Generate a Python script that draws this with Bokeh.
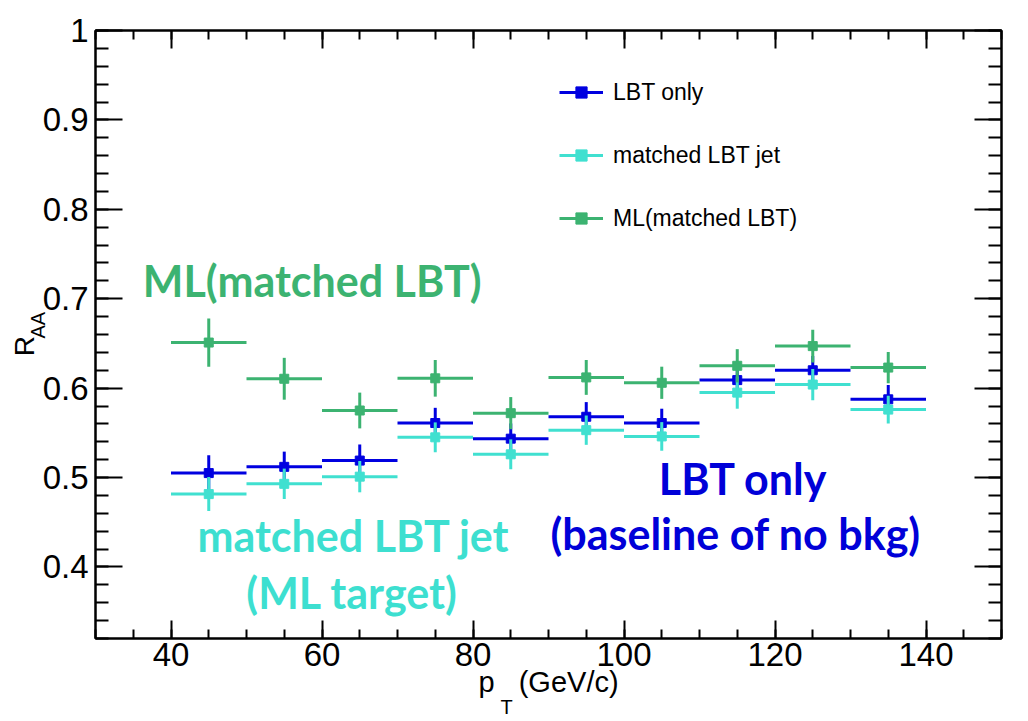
import math
from bokeh.plotting import figure
from bokeh.models import (LinearAxis, SingleIntervalTicker, CustomJSTickFormatter, Label,
                          Legend, LegendItem, Range1d, ColumnDataSource)
from bokeh.embed import file_html
from bokeh.resources import INLINE

# ---------------- data ----------------
pt = [45, 55, 65, 75, 85, 95, 105, 115, 125, 135]
pt_lo = [40, 50, 60, 70, 80, 90, 100, 110, 120, 130]
pt_hi = [50, 60, 70, 80, 90, 100, 110, 120, 130, 140]

lbt_only = [0.505, 0.512, 0.519, 0.561, 0.5435, 0.568, 0.561, 0.609, 0.620, 0.5875]
lbt_only_err = [0.020, 0.017, 0.018, 0.017, 0.017, 0.0164, 0.016, 0.016, 0.016, 0.016]

matched_jet = [0.4815, 0.493, 0.501, 0.545, 0.526, 0.553, 0.546, 0.595, 0.604, 0.576]
matched_jet_err = [0.019, 0.017, 0.0175, 0.0167, 0.0167, 0.0164, 0.016, 0.018, 0.0175, 0.0156]

ml_matched = [0.651, 0.6105, 0.575, 0.611, 0.572, 0.612, 0.606, 0.625, 0.647, 0.623]
ml_matched_err = [0.027, 0.0234, 0.020, 0.0205, 0.018, 0.0195, 0.018, 0.0186, 0.0182, 0.0175]

series_names = ["LBT only", "matched LBT jet", "ML(matched LBT)"]
series_values = [lbt_only, matched_jet, ml_matched]
series_errors = [lbt_only_err, matched_jet_err, ml_matched_err]
series_colors = ["#0000e0", "#40e0d0", "#3cb371"]

x_ticks_interval = 20
y_ticks_interval = 0.1

NB = "\u00a0"

# ---------------- figure ----------------
p = figure(width=1028, height=721, x_range=Range1d(30, 150), y_range=Range1d(0.32, 1.0),
           output_backend="svg", toolbar_location=None,
           min_border_left=95, min_border_right=27, min_border_top=30, min_border_bottom=83,
           x_axis_location=None, y_axis_location=None)
p.xgrid.visible = False
p.ygrid.visible = False
p.outline_line_color = "black"
p.outline_line_width = 2
p.background_fill_color = "white"
p.border_fill_color = "white"

TICK_FONT = "Liberation Sans"


def make_axis(kind, labels):
    ax = LinearAxis()
    if kind == "x":
        ax.ticker = SingleIntervalTicker(interval=x_ticks_interval, num_minor_ticks=4)
        ax.major_tick_in = 18
        ax.minor_tick_in = 9
    else:
        ax.ticker = SingleIntervalTicker(interval=y_ticks_interval, num_minor_ticks=5)
        ax.major_tick_in = 27
        ax.minor_tick_in = 13
    ax.major_tick_out = 0
    ax.minor_tick_out = 0
    ax.axis_line_width = 2
    ax.major_tick_line_width = 2
    ax.minor_tick_line_width = 2
    ax.axis_line_color = "black"
    ax.major_tick_line_color = "black"
    ax.minor_tick_line_color = "black"
    if labels:
        ax.major_label_text_font = TICK_FONT
        ax.major_label_text_font_size = "33px"
        ax.major_label_text_color = "black"
        ax.axis_label_text_font = TICK_FONT
        ax.axis_label_text_font_style = "normal"
        ax.axis_label_text_color = "black"
        if kind == "x":
            ax.major_label_standoff = 4
            ax.formatter = CustomJSTickFormatter(code="return Math.round(tick).toString();")
            ax.axis_label = "p" + NB * 3 + "(GeV/c)"
            ax.axis_label_text_font_size = "29px"
            ax.axis_label_standoff = -3
        else:
            ax.major_label_standoff = 7
            ax.formatter = CustomJSTickFormatter(code="return (Math.round(tick*10)/10).toString();")
            ax.axis_label = "R" + NB * 3
            ax.axis_label_text_font_size = "28px"
            ax.axis_label_standoff = 0
    else:
        ax.major_label_text_font_size = "0px"
        ax.major_label_text_alpha = 0
        ax.major_label_standoff = 0
    return ax


p.add_layout(make_axis("x", True), "below")
p.add_layout(make_axis("x", False), "above")
p.add_layout(make_axis("y", True), "left")
p.add_layout(make_axis("y", False), "right")

# ---------------- series ----------------
legend_items = []
for name, vals, errs, col in zip(series_names, series_values, series_errors, series_colors):
    src = ColumnDataSource(dict(
        x=pt, lo=pt_lo, hi=pt_hi, y=vals,
        ylo=[v - e for v, e in zip(vals, errs)],
        yhi=[v + e for v, e in zip(vals, errs)],
    ))
    p.segment(x0="x", x1="x", y0="ylo", y1="yhi", source=src, line_color=col, line_width=3)
    hr = p.segment(x0="lo", x1="hi", y0="y", y1="y", source=src, line_color=col, line_width=3)
    sr = p.scatter(x="x", y="y", source=src, marker="square", size=9,
                   fill_color=col, line_color=col, line_width=1)
    legend_items.append(LegendItem(label=name, renderers=[hr, sr]))

legend = Legend(items=legend_items, location=(464, 406), orientation="vertical",
                glyph_width=44, glyph_height=28, label_height=28, label_standoff=10,
                spacing=35, padding=0, margin=0,
                border_line_color=None, background_fill_alpha=0,
                label_text_font=TICK_FONT, label_text_font_size="23px",
                label_text_color="black")
p.add_layout(legend, "center")

# ---------------- annotations ----------------
BIG_FONT = "Lato"
BIG_SIZE = "43px"
big_texts = [
    ("ML(matched LBT)", 58.7, 0.7199, "#3cb371"),
    ("matched LBT jet", 64.2, 0.4353, "#3ddfd0"),
    ("(ML target)", 64.0, 0.3717, "#3ddfd0"),
    ("LBT only", 115.8, 0.499, "#0000d8"),
    ("(baseline of no bkg)", 114.8, 0.437, "#0000d8"),
]
for txt, xx, yy, col in big_texts:
    p.add_layout(Label(x=xx, y=yy, text=txt, text_align="center", text_baseline="alphabetic",
                       text_font=BIG_FONT, text_font_style="bold", text_font_size=BIG_SIZE,
                       text_color=col))

# subscripts of the axis titles, placed in side panels (not clipped to the frame)
p.add_layout(Label(x=-501, y=-68, x_units="screen", y_units="screen", text="T",
                   text_font=TICK_FONT, text_font_size="20px", text_baseline="alphabetic",
                   text_align="left", text_color="black"), "right")
p.add_layout(Label(x=-58, y=-308, x_units="screen", y_units="screen", text="AA",
                   angle=math.pi / 2, text_font=TICK_FONT, text_font_size="20px",
                   text_baseline="alphabetic", text_align="left", text_color="black"), "above")

open("out.html", "w").write(file_html(p, INLINE))
